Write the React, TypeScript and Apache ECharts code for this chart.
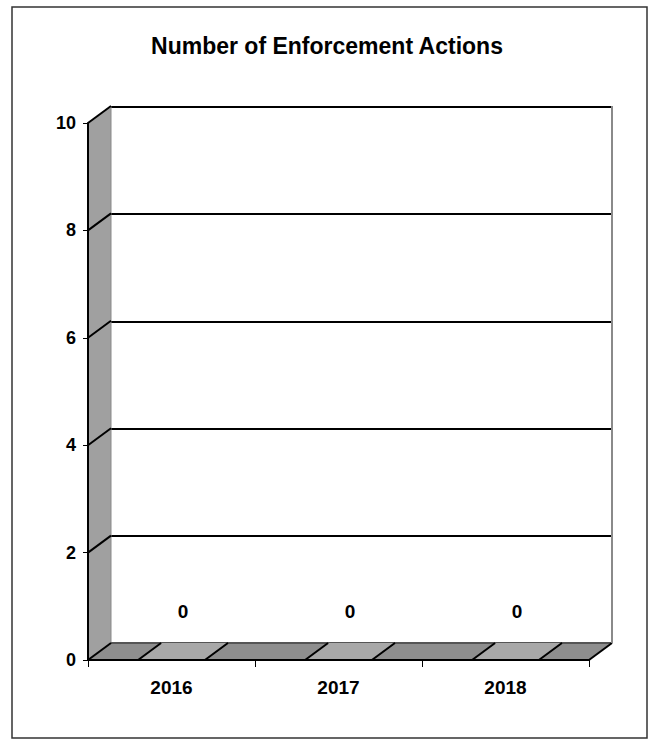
import React, { useEffect, useRef } from "react";
import * as echarts from "echarts";

const categories = ["2016", "2017", "2018"];
const values = [0, 0, 0];
const yTicks = [0, 2, 4, 6, 8, 10];
const yMin = 0;
const yMax = 10;
const yInterval = 2;
const titleText = "Number of Enforcement Actions";

const FONT = "Arial, 'Liberation Sans', sans-serif";
const DX = 23;
const DY = -17;

export default function App() {
  const ref = useRef<HTMLDivElement>(null);
  useEffect(() => {
    if (!ref.current) return;
    const chart = echarts.init(ref.current, undefined, { renderer: "svg" });

    const wallItem = (params: any, api: any) => {
      const cs = params.coordSys;
      const L = cs.x;
      const R = cs.x + cs.width;
      const bottom = api.coord([0, yMin])[1];
      const top = api.coord([0, yMax])[1];
      const children: any[] = [
        {
          type: "polygon",
          shape: { points: [[L, top], [L + DX, top + DY], [L + DX, bottom + DY], [L, bottom]] },
          style: { fill: "#a0a0a0", stroke: "#8a8a8a", lineWidth: 1 },
        },
        {
          type: "polygon",
          shape: { points: [[L, bottom], [R, bottom], [R + DX, bottom + DY], [L + DX, bottom + DY]] },
          style: { fill: "#8e8e8e", stroke: null },
        },
        {
          type: "line",
          shape: { x1: L + DX, y1: bottom + DY, x2: R + DX, y2: bottom + DY },
          style: { stroke: "#555", lineWidth: 2 },
        },
        {
          type: "line",
          shape: { x1: R, y1: bottom, x2: R + DX, y2: bottom + DY },
          style: { stroke: "#000", lineWidth: 2 },
        },
        {
          type: "line",
          shape: { x1: R + DX, y1: top + DY, x2: R + DX, y2: bottom + DY },
          style: { stroke: "#8a8a8a", lineWidth: 2 },
        },
      ];
      yTicks.forEach((t) => {
        const y = api.coord([0, t])[1];
        children.push({
          type: "line",
          shape: { x1: L, y1: y, x2: L + DX, y2: y + DY },
          style: { stroke: "#000", lineWidth: 2 },
        });
      });
      return { type: "group", children };
    };

    const barItem = (params: any, api: any) => {
      const i = api.value(0);
      const v = api.value(1);
      const topP = api.coord([i, v]);
      const baseP = api.coord([i, yMin]);
      const w = api.size([1, 0])[0] * 0.4;
      const x0 = topP[0] - w / 2;
      const x1 = topP[0] + w / 2;
      const yt = topP[1];
      const yb = baseP[1];
      return {
        type: "group",
        children: [
          {
            type: "polygon",
            shape: { points: [[x1, yt], [x1 + DX, yt + DY], [x1 + DX, yb + DY], [x1, yb]] },
            style: { fill: "#8a8a8a", stroke: "#000", lineWidth: 1 },
          },
          {
            type: "rect",
            shape: { x: x0, y: yt, width: w, height: yb - yt },
            style: { fill: "#a8a8a8", stroke: "#000", lineWidth: 1 },
          },
          {
            type: "polygon",
            shape: { points: [[x0, yt], [x1, yt], [x1 + DX, yt + DY], [x0 + DX, yt + DY]] },
            style: { fill: "#a8a8a8", stroke: null },
          },
          {
            type: "line",
            shape: { x1: x0, y1: yt, x2: x0 + DX, y2: yt + DY },
            style: { stroke: "#000", lineWidth: 2 },
          },
          {
            type: "line",
            shape: { x1: x1, y1: yt, x2: x1 + DX, y2: yt + DY },
            style: { stroke: "#000", lineWidth: 2 },
          },
          {
            type: "text",
            style: {
              x: topP[0] + DX / 2,
              y: yt + DY / 2 - 40,
              text: String(v),
              fill: "#000",
              font: `bold 19px ${FONT}`,
              align: "center",
              verticalAlign: "middle",
            },
          },
        ],
      };
    };

    chart.setOption({
      animation: false,
      backgroundColor: "#fff",
      title: {
        text: titleText,
        left: "center",
        top: 29,
        textStyle: { fontFamily: FONT, fontSize: 23, fontWeight: "bold", color: "#000" },
      },
      graphic: [
        {
          type: "rect",
          shape: { x: 12, y: 7, width: 635, height: 731 },
          style: { fill: null, stroke: "#333", lineWidth: 1.5 },
          silent: true,
        },
      ],
      grid: [
        { left: 111, right: 42, top: 107, bottom: 96 },
        { left: 88, right: 65, top: 123, bottom: 79 },
      ],
      xAxis: [
        { gridIndex: 0, type: "category", data: categories, show: false },
        {
          gridIndex: 1,
          type: "category",
          data: categories,
          axisLine: { show: true, lineStyle: { color: "#000", width: 2 } },
          axisTick: { show: true, length: 7, lineStyle: { color: "#000", width: 1 } },
          axisLabel: { fontFamily: FONT, fontSize: 19, fontWeight: "bold", color: "#000", margin: 18 },
          splitLine: { show: false },
          z: 5,
        },
      ],
      yAxis: [
        {
          gridIndex: 0,
          type: "value",
          min: yMin,
          max: yMax,
          interval: yInterval,
          axisLine: { show: false },
          axisTick: { show: false },
          axisLabel: { show: false },
          splitLine: { show: true, lineStyle: { color: "#000", width: 2 } },
        },
        {
          gridIndex: 1,
          type: "value",
          min: yMin,
          max: yMax,
          interval: yInterval,
          axisLine: { show: true, lineStyle: { color: "#000", width: 2 } },
          axisTick: { show: true, length: 5, lineStyle: { color: "#000", width: 1 } },
          axisLabel: { fontFamily: FONT, fontSize: 18, fontWeight: "bold", color: "#000", margin: 12 },
          splitLine: { show: false },
          z: 5,
        },
      ],
      series: [
        {
          type: "custom",
          name: "walls",
          xAxisIndex: 1,
          yAxisIndex: 1,
          data: [[0, 0]],
          renderItem: wallItem,
          z: 1,
          silent: true,
        },
        {
          type: "custom",
          name: "Enforcement Actions",
          xAxisIndex: 1,
          yAxisIndex: 1,
          data: values.map((v, i) => [i, v]),
          renderItem: barItem,
          z: 2,
        },
      ],
    });
    return () => chart.dispose();
  }, []);
  return (
    <div
      ref={ref}
      style={{ position: "absolute", left: 0, top: 0, width: 654, height: 739 }}
    />
  );
}
